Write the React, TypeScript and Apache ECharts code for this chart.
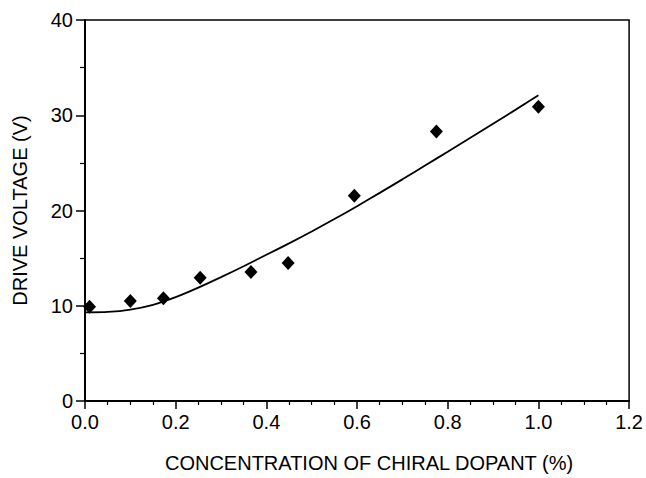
import React, { useEffect, useRef } from "react";
import * as echarts from "echarts";

// Measured data points (concentration %, drive voltage V)
const pointX = [0.01, 0.1, 0.173, 0.254, 0.366, 0.448, 0.594, 0.775, 1.0];
const pointY = [9.9, 10.5, 10.8, 12.95, 13.55, 14.5, 21.55, 28.3, 30.9];

// Fitted curve
const curveX = [0, 0.05, 0.1, 0.15, 0.2, 0.25, 0.3, 0.35, 0.4, 0.45, 0.5, 0.55, 0.6, 0.65, 0.7, 0.75, 0.8, 0.85, 0.9, 0.95, 1.0];
const curveY = [9.3, 9.35, 9.6, 10.1, 10.9, 11.9, 13.0, 14.15, 15.35, 16.55, 17.8, 19.1, 20.45, 21.85, 23.27, 24.72, 26.17, 27.64, 29.11, 30.59, 32.1];

const xTitle = "CONCENTRATION OF CHIRAL DOPANT (%)";
const yTitle = "DRIVE VOLTAGE (V)";

const FONT = "'Liberation Sans', Arial, Helvetica, sans-serif";

export default function App() {
  const ref = useRef<HTMLDivElement>(null);
  useEffect(() => {
    if (!ref.current) return;
    const chart = echarts.init(ref.current, undefined, { renderer: "svg" });
    chart.setOption({
      animation: false,
      backgroundColor: "#fff",
      grid: {
        left: 85,
        right: 14,
        top: 20,
        bottom: 75,
        show: true,
        borderColor: "#000",
        borderWidth: 1.5,
        backgroundColor: "transparent",
      },
      xAxis: {
        type: "value",
        min: 0,
        max: 1.2,
        interval: 0.2,
        name: xTitle,
        nameLocation: "middle",
        nameGap: 52,
        nameTextStyle: { fontFamily: FONT, fontSize: 20, color: "#000", padding: [0, 0, 0, 24] },
        axisLine: { show: true, onZero: false, lineStyle: { color: "#000", width: 2 } },
        axisTick: { show: true, inside: false, length: 8, lineStyle: { color: "#000", width: 1.5 } },
        minorTick: { show: true, splitNumber: 4, length: 4, lineStyle: { color: "#000", width: 1.2 } },
        splitLine: { show: false },
        axisLabel: {
          margin: 11,
          fontFamily: FONT,
          fontSize: 20,
          color: "#000",
          formatter: (v: number) => v.toFixed(1),
        },
      },
      yAxis: {
        type: "value",
        min: 0,
        max: 40,
        interval: 10,
        name: yTitle,
        nameLocation: "middle",
        nameGap: 55,
        nameRotate: 90,
        nameTextStyle: { fontFamily: FONT, fontSize: 20, color: "#000" },
        axisLine: { show: true, onZero: false, lineStyle: { color: "#000", width: 2 } },
        axisTick: { show: true, inside: false, length: 9, lineStyle: { color: "#000", width: 1.5 } },
        minorTick: { show: true, splitNumber: 2, length: 5, lineStyle: { color: "#000", width: 1.2 } },
        splitLine: { show: false },
        axisLabel: { margin: 12, fontFamily: FONT, fontSize: 20, color: "#000" },
      },
      series: [
        {
          type: "line",
          data: curveX.map((x, i) => [x, curveY[i]]),
          smooth: 0.2,
          showSymbol: false,
          lineStyle: { color: "#000", width: 1.8 },
          z: 2,
        },
        {
          type: "scatter",
          data: pointX.map((x, i) => [x, pointY[i]]),
          symbol: "diamond",
          symbolSize: [13, 14],
          itemStyle: { color: "#000", opacity: 1 },
          z: 3,
        },
      ],
    });
    return () => chart.dispose();
  }, []);
  return (
    <div
      ref={ref}
      style={{ position: "absolute", left: 0, top: 0, width: 646, height: 478 }}
    />
  );
}
